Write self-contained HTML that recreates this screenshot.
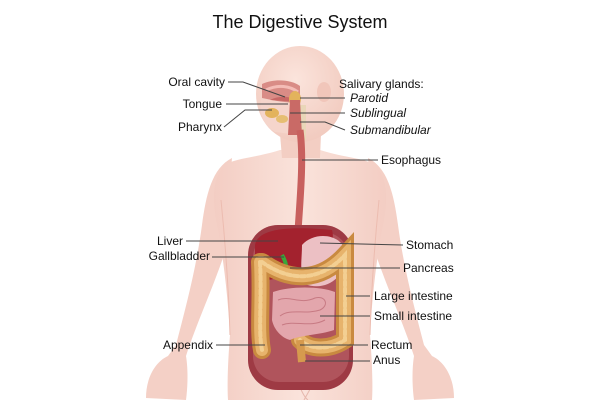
<!DOCTYPE html>
<html><head><meta charset="utf-8"><style>
html,body{margin:0;padding:0;background:#fff;}
svg{display:block}
text{font-family:"Liberation Sans",sans-serif;font-size:12px;fill:#111}
.it{font-style:italic}
</style></head><body>
<svg width="600" height="400" viewBox="0 0 600 400">
<defs>
<linearGradient id="sk" x1="0" x2="1"><stop offset="0" stop-color="#f3cdc3"/><stop offset=".5" stop-color="#fae3db"/><stop offset="1" stop-color="#f3cdc3"/></linearGradient>
<radialGradient id="hd" cx=".45" cy=".35" r=".7"><stop offset="0" stop-color="#fbe4dc"/><stop offset="1" stop-color="#f1c9bd"/></radialGradient>
</defs>
<!-- arms -->
<path d="M232 158 C212 168 206 195 202 225 C196 270 185 310 176 345 L168 356 C155 362 146 378 146 398 L186 400 C188 385 188 368 186 356 C196 325 212 290 224 255 Z" fill="#f4d0c6"/>
<path d="M368 158 C388 168 394 195 398 225 C404 270 415 310 424 345 L432 356 C445 362 454 378 454 398 L414 400 C412 385 412 368 414 356 C404 325 388 290 376 255 Z" fill="#f4d0c6"/>
<!-- torso -->
<path d="M280 150 C255 158 235 158 225 165 C212 178 212 200 217 225 C224 260 228 300 230 335 C228 360 227 385 228 400 L372 400 C373 385 372 360 370 335 C372 300 376 260 383 225 C388 200 388 178 375 165 C365 158 345 158 320 150 Z" fill="url(#sk)"/>
<path d="M221 200 C226 250 229 300 230 335 M379 200 C374 250 371 300 370 335" stroke="#ecbcb0" fill="none"/>
<path d="M296 375 C300 390 305 398 308 400 M304 400 L318 375" stroke="#e6b8ad" fill="none"/>
<!-- neck -->
<path d="M278 110 L282 158 L320 158 L322 110 Z" fill="#f3cec3"/>
<!-- head -->
<ellipse cx="300" cy="94" rx="44" ry="48" fill="url(#hd)"/>
<path d="M262 95 C258 110 262 125 275 132 L300 135 L300 95 Z" fill="#f5d5cb"/>
<ellipse cx="324" cy="92" rx="7" ry="10" fill="#f1c6ba"/>
<!-- mouth / oral cavity -->
<path d="M262 84 C275 78 292 80 300 86 L300 102 C288 104 272 100 262 98 Z" fill="#d98c86"/>
<path d="M266 90 C278 84 290 86 298 92" stroke="#f4bcb6" stroke-width="3" fill="none"/>
<path d="M270 100 C280 95 292 96 298 102" fill="#c86866"/>
<!-- glands -->
<ellipse cx="295" cy="99" rx="6" ry="8" fill="#e3b35c"/>
<ellipse cx="272" cy="113" rx="7" ry="5" fill="#e3b35c"/>
<ellipse cx="282" cy="119" rx="6" ry="4" fill="#e6be72"/>
<rect x="298" y="105" width="8" height="35" fill="#e9d6b8"/>
<path d="M290 100 L300 100 L302 135 L288 135 Z" fill="#c96a66"/>
<!-- esophagus -->
<path d="M300 130 C304 160 300 200 297 245" stroke="#c8605e" stroke-width="7" fill="none"/>
<!-- cavity -->
<rect x="248" y="225" width="105" height="165" rx="30" fill="#9e3a44"/>
<rect x="253" y="232" width="96" height="150" rx="26" fill="#b0545c"/>
<!-- liver -->
<path d="M255 245 C258 228 290 226 332 230 C338 252 312 264 292 272 C277 279 262 284 255 276 Z" fill="#a3222e"/>
<!-- stomach -->
<path d="M302 245 C315 230 345 234 346 255 C346 278 325 292 305 284 C299 272 302 260 302 245 Z" fill="#ecc0c4"/>
<path d="M282 255 C286 262 288 268 284 276" stroke="#3aa83a" stroke-width="4" fill="none"/>
<!-- large intestine -->
<g fill="none" stroke-linecap="round">
<path d="M260 262 C262 300 258 330 262 350 M262 262 C290 282 320 282 345 255 L345 340 C330 350 310 350 300 340" stroke="#c98a40" stroke-width="18"/>
<path d="M260 262 C262 300 258 330 262 350 M262 262 C290 282 320 282 345 255 L345 340 C330 350 310 350 300 340" stroke="#e7b36c" stroke-width="12"/>
<path d="M260 262 C262 300 258 330 262 350 M262 262 C290 282 320 282 345 255 L345 340 C330 350 310 350 300 340" stroke="#f3cf92" stroke-width="4" stroke-dasharray="4 3"/>
</g>
<path d="M300 340 L302 362" stroke="#d69a4e" stroke-width="8"/>
<!-- small intestine -->
<path d="M273 292 C290 286 320 286 335 292 L334 330 C320 335 300 335 290 340 C282 338 274 330 272 320 Z" fill="#e3a6ac"/>
<path d="M278 300 C290 295 300 305 315 298 C325 295 330 305 320 310 C305 315 290 308 280 316 M282 325 C295 320 310 328 325 320" stroke="#c77a83" fill="none"/>
<!-- connectors -->
<g stroke="#444" stroke-width="1" fill="none">
<path d="M228 82 L243 82 L285 97"/>
<path d="M226 104 L288 104"/>
<path d="M224 127 L245 110 L272 110"/>
<path d="M345 98 L300 98"/>
<path d="M345 113 L290 113"/>
<path d="M345 130 L325 122 L300 122"/>
<path d="M378 160 L302 160"/>
<path d="M186 241 L278 241"/>
<path d="M212 257 L284 257"/>
<path d="M403 245 L320 243"/>
<path d="M400 268 L290 268"/>
<path d="M370 296 L346 296"/>
<path d="M370 316 L320 316"/>
<path d="M216 345 L265 345"/>
<path d="M368 345 L300 345"/>
<path d="M370 361 L305 361"/>
</g>
<text x="300" y="28" text-anchor="middle" style="font-size:18px">The Digestive System</text>
<text x="225" y="86" text-anchor="end">Oral cavity</text>
<text x="222" y="108" text-anchor="end">Tongue</text>
<text x="222" y="131" text-anchor="end">Pharynx</text>
<text x="339" y="88">Salivary glands:</text>
<text x="350" y="102" class="it">Parotid</text>
<text x="350" y="117" class="it">Sublingual</text>
<text x="350" y="134" class="it">Submandibular</text>
<text x="381" y="164">Esophagus</text>
<text x="183" y="245" text-anchor="end">Liver</text>
<text x="210" y="260" text-anchor="end">Gallbladder</text>
<text x="406" y="249">Stomach</text>
<text x="403" y="272">Pancreas</text>
<text x="374" y="300">Large intestine</text>
<text x="374" y="320">Small intestine</text>
<text x="213" y="349" text-anchor="end">Appendix</text>
<text x="371" y="349">Rectum</text>
<text x="373" y="364">Anus</text>
</svg>
</body></html>
